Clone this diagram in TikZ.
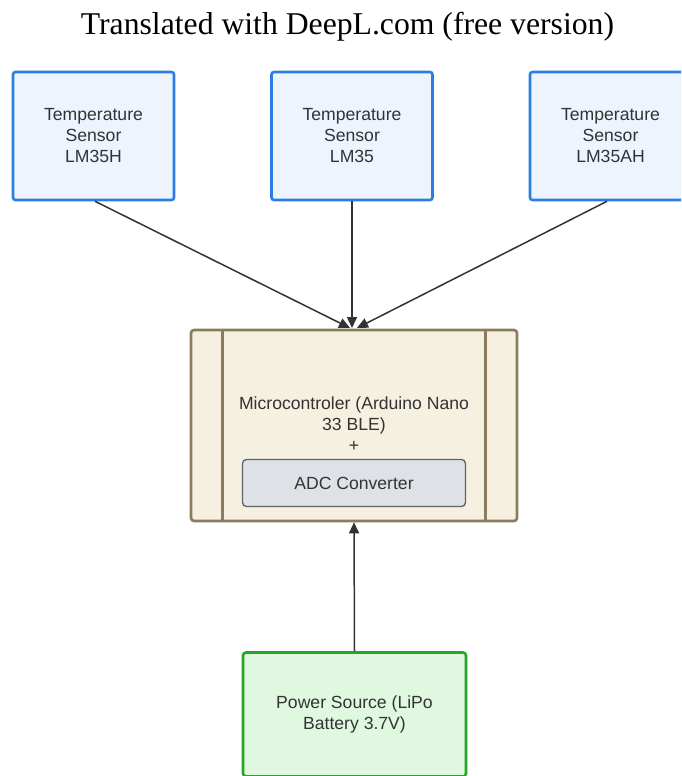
\documentclass[tikz,border=0pt]{standalone}
\usepackage{fontspec}
\setmainfont{Liberation Sans}
\newfontfamily\titlefont{Liberation Serif}
\usetikzlibrary{arrows.meta}
\definecolor{txt}{HTML}{333333}
\definecolor{sensfill}{HTML}{EDF4FE}
\definecolor{sensdraw}{HTML}{2A7DE1}
\definecolor{mcfill}{HTML}{F5F0E0}
\definecolor{mcdraw}{HTML}{8A7C5C}
\definecolor{adcfill}{HTML}{DEE1E6}
\definecolor{adcdraw}{HTML}{5F6368}
\definecolor{pwfill}{HTML}{E0F8E0}
\definecolor{pwdraw}{HTML}{26A626}
\definecolor{arr}{HTML}{333333}
\tikzset{
  lbl/.style={text=txt, font=\fontsize{17.6}{21}\selectfont, align=center},
  sensor/.style={lbl, draw=sensdraw, fill=sensfill, line width=2.6pt, rounded corners=2.5pt,
    minimum width=161pt, minimum height=128pt, inner sep=0pt},
  mcbox/.style={draw=mcdraw, fill=mcfill, line width=2.6pt, rounded corners=3pt,
    minimum width=326pt, minimum height=191pt, inner sep=0pt},
  adcbox/.style={lbl, draw=adcdraw, fill=adcfill, line width=1.3pt, rounded corners=4pt,
    minimum width=223pt, minimum height=47pt, inner sep=0pt},
  pwbox/.style={lbl, draw=pwdraw, fill=pwfill, line width=2.6pt, rounded corners=3pt,
    minimum width=223pt, minimum height=124pt, inner sep=0pt},
  conn/.style={draw=arr, line width=1.5pt, -{Triangle[length=11pt,width=10pt]}},
}
\begin{document}
\begin{tikzpicture}[x=1pt,y=-1pt]
\useasboundingbox (0,0) rectangle (681,776);
\clip (0,0) rectangle (681,776);
\node[text=black, font=\titlefont\fontsize{31.7}{36}\selectfont, anchor=base, inner sep=0pt] (title) at (347.5,35) {Translated with DeepL.com (free version)};

\node[sensor] (s1) at (93.5,136) {Temperature\\Sensor\\LM35H};
\node[sensor] (s2) at (352,136) {Temperature\\Sensor\\LM35};
\node[sensor] (s3) at (610.5,136) {Temperature\\Sensor\\LM35AH};

\node[mcbox] (mc) at (354,425.5) {};
\draw[mcdraw, line width=2.6pt] ([xshift=33pt]mc.north west) -- ([xshift=33pt]mc.south west);
\draw[mcdraw, line width=2.6pt] ([xshift=-33pt]mc.north east) -- ([xshift=-33pt]mc.south east);
\node[lbl] (mctext) at (354,424) {Microcontroler (Arduino Nano\\33 BLE)\\+};
\node[adcbox] (adc) at (354,483) {ADC Converter};

\node[pwbox] (pw) at (354.5,714.5) {Power Source (LiPo\\Battery 3.7V)};

\coordinate (t1) at (350,328);
\coordinate (t2) at (352,328);
\coordinate (t3) at (357,328);
\draw[conn] ([xshift=1.5pt]s1.south) -- (t1);
\draw[conn] (s2.south) -- (t2);
\draw[conn] ([xshift=-3.5pt]s3.south) -- (t3);
\draw[conn] (pw.north) -- (mc.south);
\end{tikzpicture}
\end{document}
